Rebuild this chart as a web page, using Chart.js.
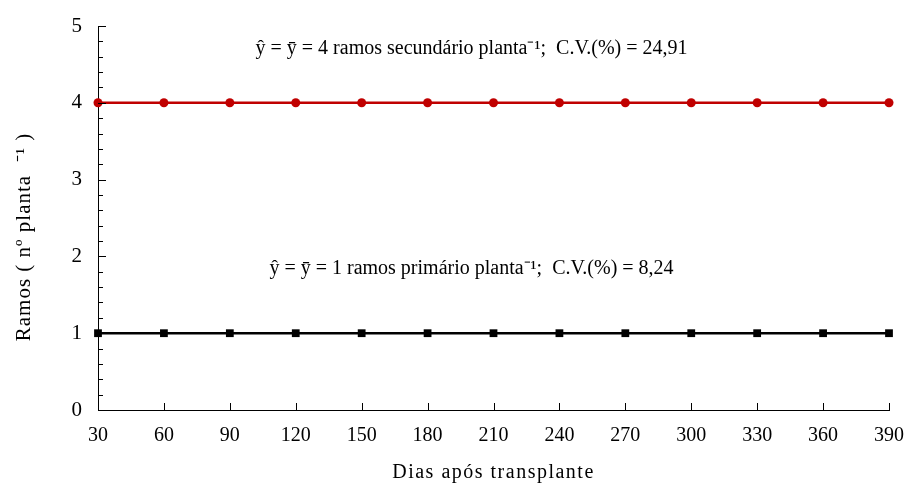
<!DOCTYPE html>
<html>
<head>
<meta charset="utf-8">
<script src="https://cdn.jsdelivr.net/npm/chart.js@4"></script>
<style>
  html, body { margin: 0; padding: 0; background: #fff; }
  #wrap { width: 907px; height: 486px; }
</style>
</head>
<body>
<div id="wrap"><canvas id="ramos" width="907" height="486"></canvas></div>
<script>
const dias = [30, 60, 90, 120, 150, 180, 210, 240, 270, 300, 330, 360, 390];
const secundarios = [4, 4, 4, 4, 4, 4, 4, 4, 4, 4, 4, 4, 4];
const primarios = [1, 1, 1, 1, 1, 1, 1, 1, 1, 1, 1, 1, 1];
const equacoes = [
  { x: 200, y: 4.71, texto: 'ŷ = ȳ = 4 ramos secundário planta⁻¹;  C.V.(%) = 24,91' },
  { x: 200, y: 1.84, texto: 'ŷ = ȳ = 1 ramos primário planta⁻¹;  C.V.(%) = 8,24' }
];
const tituloX = 'Dias após transplante';
const tituloY = 'Ramos ( nº planta  ⁻¹ )';

const serif = '"Liberation Serif", "Times New Roman", serif';

// ticks vers l'intérieur, titres et textes des équations
const extras = {
  id: 'extras',
  afterDraw(chart) {
    const ctx = chart.ctx;
    const xs = chart.scales.x, ys = chart.scales.y;
    const area = chart.chartArea;
    ctx.save();
    ctx.strokeStyle = '#000';
    ctx.lineWidth = 1;
    ctx.beginPath();
    for (let v = 0; v <= 50; v += 2) {
      const py = Math.round(ys.getPixelForValue(v / 10)) + 0.5;
      const len = v % 10 === 0 ? 8 : 5;
      ctx.moveTo(area.left, py);
      ctx.lineTo(area.left + len, py);
    }
    dias.forEach(d => {
      const px = Math.round(xs.getPixelForValue(d)) + 0.5;
      ctx.moveTo(px, area.bottom);
      ctx.lineTo(px, area.bottom - 7);
    });
    ctx.stroke();

    ctx.fillStyle = '#000';
    ctx.font = '20px ' + serif;
    ctx.textAlign = 'center';
    ctx.textBaseline = 'middle';
    equacoes.forEach(e => {
      ctx.fillText(e.texto, xs.getPixelForValue(e.x), ys.getPixelForValue(e.y));
    });

    // titre x
    ctx.letterSpacing = '1.5px';
    ctx.font = '20px ' + serif;
    ctx.fillText(tituloX, (area.left + area.right) / 2, 473);

    // titre y
    ctx.letterSpacing = '1px';
    ctx.font = '21px ' + serif;
    ctx.translate(24, 237);
    ctx.rotate(-Math.PI / 2);
    ctx.fillText(tituloY, 0, 0);
    ctx.restore();
  }
};

new Chart(document.getElementById('ramos'), {
  type: 'line',
  data: {
    datasets: [
      {
        label: 'secundário',
        data: dias.map((d, i) => ({ x: d, y: secundarios[i] })),
        borderColor: '#c00000',
        backgroundColor: '#c00000',
        borderWidth: 2.5,
        pointStyle: 'circle',
        pointRadius: 4.5,
        pointBorderWidth: 0
      },
      {
        label: 'primário',
        data: dias.map((d, i) => ({ x: d, y: primarios[i] })),
        borderColor: '#000',
        backgroundColor: '#000',
        borderWidth: 2.5,
        pointStyle: 'rect',
        pointRadius: 5.5,
        pointBorderWidth: 0
      }
    ]
  },
  options: {
    responsive: false,
    animation: false,
    clip: false,
    layout: { padding: { top: 26, right: 18, left: 0, bottom: 0 } },
    plugins: { legend: { display: false }, tooltip: { enabled: false } },
    scales: {
      x: {
        type: 'linear',
        min: 30,
        max: 390,
        afterBuildTicks: s => { s.ticks = dias.map(v => ({ value: v })); },
        afterFit: s => { s.height = 76; s.paddingLeft = 0; s.paddingRight = 0; },
        grid: { display: false, drawTicks: false },
        border: { display: true, color: '#000', width: 1 },
        ticks: { color: '#000', padding: 14, maxRotation: 0, font: { family: serif, size: 20 } }
      },
      y: {
        min: 0,
        max: 5,
        ticks: { stepSize: 1, color: '#000', padding: 16, font: { family: serif, size: 21 } },
        afterFit: s => { s.width = 98; s.paddingTop = 0; s.paddingBottom = 0; },
        grid: { display: false, drawTicks: false },
        border: { display: true, color: '#000', width: 1 }
      }
    }
  },
  plugins: [extras]
});
</script>
</body>
</html>
